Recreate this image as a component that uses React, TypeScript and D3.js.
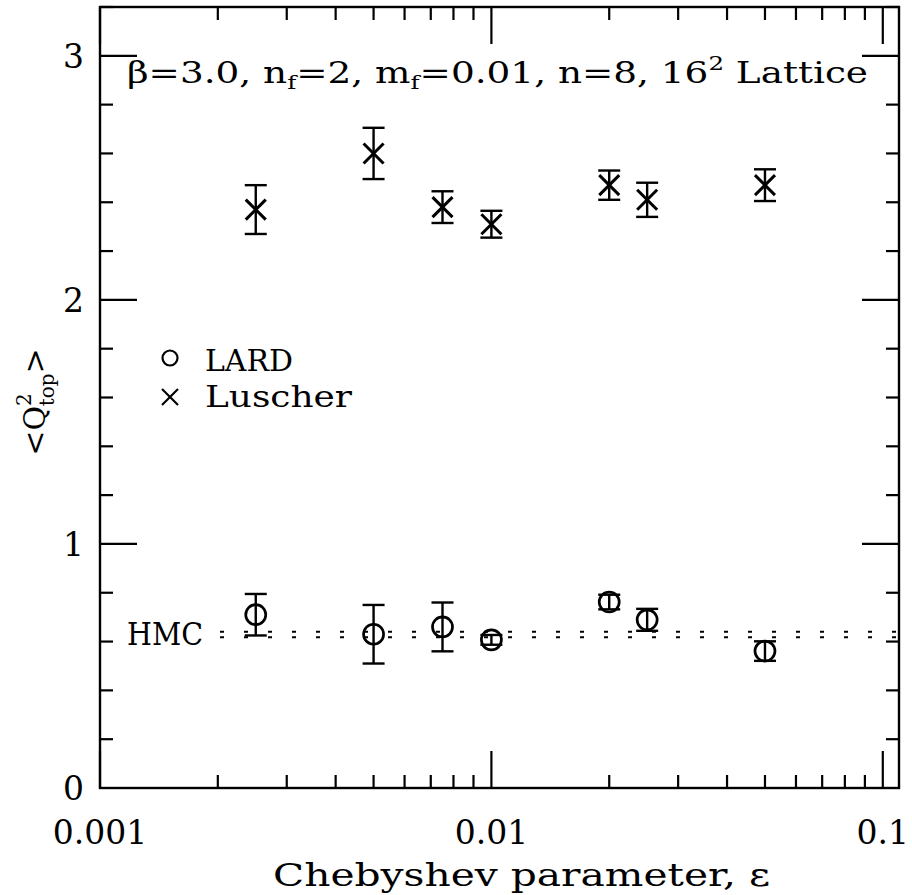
import React from "react";
import * as d3 from "d3";

const eps = [0.0025, 0.005, 0.0075, 0.01, 0.02, 0.025, 0.05];
const luscher = [2.37, 2.6, 2.38, 2.31, 2.47, 2.41, 2.47];
const luscherErr = [0.1, 0.105, 0.065, 0.055, 0.06, 0.07, 0.065];
const lard = [0.71, 0.63, 0.66, 0.607, 0.762, 0.689, 0.561];
const lardErr = [0.085, 0.12, 0.1, 0.02, 0.03, 0.045, 0.04];
const hmc = 0.629;
const hmcErr = 0.011;
const xMajor = [0.001, 0.01, 0.1];
const xMajorLabels = ["0.001", "0.01", "0.1"];
const yMajor = [0, 1, 2, 3];
const legendLabels = ["LARD", "Luscher"];

const W = 912, H = 895;
const L = 100, R = 899, T = 7, B = 788;
const FONT = "'DejaVu Serif', serif";

export default function App() {
  const x = d3.scaleLog().domain([0.001, 0.11]).range([L, R]);
  const y = d3.scaleLinear().domain([0, 3.2]).range([B, T]);

  const xMinor: number[] = [];
  [0.001, 0.01, 0.1].forEach((d) => {
    for (let k = 2; k <= 9; k++) {
      const v = d * k;
      if (v < 0.11) xMinor.push(v);
    }
  });
  const yMinor: number[] = d3.range(0, 3.21, 0.2).map((v) => +v.toFixed(2)).filter((v) => Math.abs(v - Math.round(v)) > 1e-6);

  const maj = 37, mnr = 13;
  const sw = 2.4;
  const cap = 11;
  const cs = 10;
  const cr = 10;

  return (
    <svg width={W} height={H} style={{ position: "absolute", left: 0, top: 0, background: "#fff" }} fontFamily={FONT}>
      <rect x={0} y={0} width={W} height={H} fill="#fff" />
      {/* frame */}
      <rect x={L} y={T} width={R - L} height={B - T} fill="none" stroke="#000" strokeWidth={2.4} />
      {/* x ticks */}
      {xMajor.map((v, i) => (
        <g key={"xm" + i}>
          <line x1={x(v)} x2={x(v)} y1={B} y2={B - maj} stroke="#000" strokeWidth={2.2} />
          <line x1={x(v)} x2={x(v)} y1={T} y2={T + maj} stroke="#000" strokeWidth={2.2} />
          <text x={x(v)} y={844} fontSize={33} textAnchor="middle">{xMajorLabels[i]}</text>
        </g>
      ))}
      {xMinor.map((v, i) => (
        <g key={"xn" + i}>
          <line x1={x(v)} x2={x(v)} y1={B} y2={B - mnr} stroke="#000" strokeWidth={2.2} />
          <line x1={x(v)} x2={x(v)} y1={T} y2={T + mnr} stroke="#000" strokeWidth={2.2} />
        </g>
      ))}
      {/* y ticks */}
      {yMajor.map((v, i) => (
        <g key={"ym" + i}>
          <line x1={L} x2={L + maj} y1={y(v)} y2={y(v)} stroke="#000" strokeWidth={2.2} />
          <line x1={R} x2={R - maj} y1={y(v)} y2={y(v)} stroke="#000" strokeWidth={2.2} />
          <text x={84} y={y(v) + 12} fontSize={33} textAnchor="end">{String(v)}</text>
        </g>
      ))}
      {yMinor.map((v, i) => (
        <g key={"yn" + i}>
          <line x1={L} x2={L + mnr} y1={y(v)} y2={y(v)} stroke="#000" strokeWidth={2.2} />
          <line x1={R} x2={R - mnr} y1={y(v)} y2={y(v)} stroke="#000" strokeWidth={2.2} />
        </g>
      ))}
      {/* HMC lines */}
      {[hmc - hmcErr, hmc + hmcErr].map((v, i) => (
        <line key={"h" + i} x1={220} x2={R} y1={y(v)} y2={y(v)} stroke="#000" strokeWidth={2} strokeDasharray="4 20" />
      ))}
      <text x={127} y={y(hmc) + 11} fontSize={31} textLength={76} lengthAdjust="spacingAndGlyphs">HMC</text>
      {/* Luscher */}
      {eps.map((e, i) => {
        const cx = x(e), cy = y(luscher[i]);
        const y1 = y(luscher[i] + luscherErr[i]), y2 = y(luscher[i] - luscherErr[i]);
        return (
          <g key={"l" + i} stroke="#000" strokeWidth={sw} fill="none">
            <line x1={cx} x2={cx} y1={y1} y2={y2} />
            <line x1={cx - cap} x2={cx + cap} y1={y1} y2={y1} />
            <line x1={cx - cap} x2={cx + cap} y1={y2} y2={y2} />
            <line x1={cx - cs} x2={cx + cs} y1={cy - cs} y2={cy + cs} strokeWidth={3} />
            <line x1={cx - cs} x2={cx + cs} y1={cy + cs} y2={cy - cs} strokeWidth={3} />
          </g>
        );
      })}
      {/* LARD */}
      {eps.map((e, i) => {
        const cx = x(e), cy = y(lard[i]);
        const y1 = y(lard[i] + lardErr[i]), y2 = y(lard[i] - lardErr[i]);
        return (
          <g key={"d" + i} stroke="#000" strokeWidth={sw} fill="none">
            <line x1={cx} x2={cx} y1={y1} y2={y2} />
            <line x1={cx - cap} x2={cx + cap} y1={y1} y2={y1} />
            <line x1={cx - cap} x2={cx + cap} y1={y2} y2={y2} />
            <circle cx={cx} cy={cy} r={cr} strokeWidth={2.7} />
          </g>
        );
      })}
      {/* legend */}
      <circle cx={170} cy={358} r={7.5} fill="none" stroke="#000" strokeWidth={2.2} />
      <text x={205} y={371} fontSize={30} textLength={88} lengthAdjust="spacingAndGlyphs">{legendLabels[0]}</text>
      <g stroke="#000" strokeWidth={2.2}>
        <line x1={162} x2={178} y1={389} y2={405} />
        <line x1={162} x2={178} y1={405} y2={389} />
      </g>
      <text x={205} y={407} fontSize={30} textLength={147} lengthAdjust="spacingAndGlyphs">{legendLabels[1]}</text>
      {/* title */}
      <text x={127} y={83} fontSize={29} textLength={741} lengthAdjust="spacingAndGlyphs">
        <tspan>β=3.0, n</tspan>
        <tspan fontSize={19} dy={6}>f</tspan>
        <tspan dy={-6}>=2, m</tspan>
        <tspan fontSize={19} dy={6}>f</tspan>
        <tspan dy={-6}>=0.01, n=8, 16</tspan>
        <tspan fontSize={19} dy={-13}>2</tspan>
        <tspan dy={13}> Lattice</tspan>
      </text>
      {/* x label */}
      <text x={273} y={886} fontSize={31} textLength={497} lengthAdjust="spacingAndGlyphs">Chebyshev parameter, ε</text>
      {/* y label */}
      <g transform="translate(45,402) rotate(-90)">
        <text x={0} y={0} fontSize={30} textAnchor="middle">
          <tspan>&lt;Q</tspan>
          <tspan fontSize={20} dy={-14}>2</tspan>
          <tspan fontSize={20} dx={-13} dy={23}>top</tspan>
          <tspan dy={-9}>&gt;</tspan>
        </text>
      </g>
    </svg>
  );
}
